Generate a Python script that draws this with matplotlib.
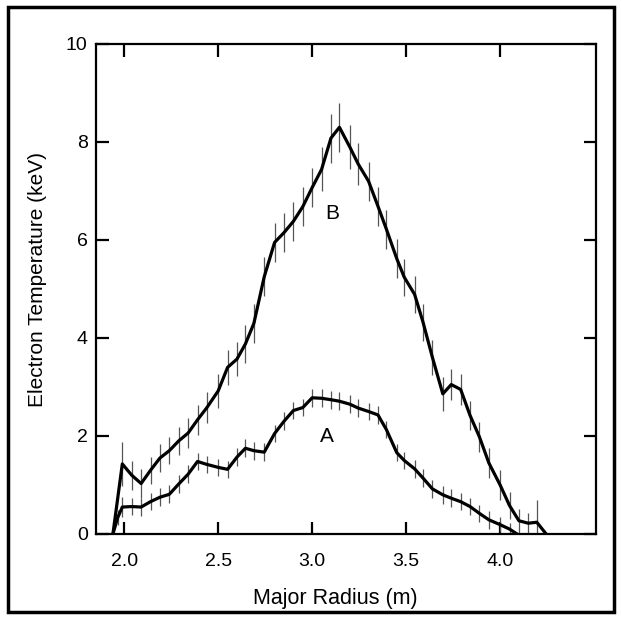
import matplotlib
matplotlib.use("Agg")
import matplotlib.pyplot as plt
from matplotlib.patches import Rectangle

plt.rcParams["font.family"] = ["Liberation Sans", "DejaVu Sans"]

# profile B (hot shot)
radius_b = [1.94, 1.99, 2.04, 2.09, 2.14, 2.19, 2.24, 2.29, 2.34, 2.39,
            2.44, 2.50, 2.55, 2.60, 2.645, 2.69, 2.745, 2.80, 2.85, 2.90,
            2.95, 3.00, 3.05, 3.10, 3.145, 3.20, 3.245, 3.30, 3.35, 3.395,
            3.45, 3.49, 3.545, 3.59, 3.64, 3.695, 3.74, 3.79, 3.84, 3.89,
            3.94, 4.00, 4.05, 4.10, 4.15, 4.195, 4.245]
te_b = [0, 1.43, 1.20, 1.03, 1.30, 1.55, 1.70, 1.90, 2.06, 2.33,
        2.58, 2.92, 3.40, 3.57, 3.88, 4.30, 5.25, 5.95, 6.15, 6.38,
        6.68, 7.07, 7.44, 8.08, 8.30, 7.90, 7.55, 7.20, 6.69, 6.22,
        5.62, 5.24, 4.89, 4.32, 3.60, 2.86, 3.05, 2.95, 2.42, 1.98,
        1.45, 1.00, 0.58, 0.27, 0.22, 0.24, 0]
err_b = [0, 0.45, 0.30, 0.30, 0.28, 0.28, 0.28, 0.28, 0.30, 0.30,
         0.32, 0.35, 0.35, 0.35, 0.38, 0.40, 0.40, 0.40, 0.40, 0.40,
         0.40, 0.40, 0.45, 0.50, 0.50, 0.45, 0.42, 0.40, 0.40, 0.40,
         0.40, 0.38, 0.38, 0.38, 0.35, 0.35, 0.32, 0.32, 0.30, 0.30,
         0.30, 0.30, 0.28, 0.25, 0.20, 0.45, 0]

# profile A
radius_a = [1.94, 1.965, 1.99, 2.04, 2.09, 2.14, 2.19, 2.24, 2.29, 2.34,
            2.39, 2.44, 2.50, 2.55, 2.60, 2.645, 2.69, 2.745, 2.80, 2.85,
            2.90, 2.95, 3.00, 3.05, 3.10, 3.145, 3.20, 3.245, 3.30, 3.35,
            3.395, 3.45, 3.49, 3.545, 3.59, 3.64, 3.695, 3.74, 3.79, 3.84,
            3.89, 3.94, 4.00, 4.05, 4.09]
te_a = [0, 0.33, 0.55, 0.56, 0.55, 0.66, 0.75, 0.81, 1.02, 1.22,
        1.48, 1.42, 1.36, 1.32, 1.57, 1.75, 1.70, 1.67, 2.05, 2.30,
        2.52, 2.58, 2.78, 2.77, 2.74, 2.71, 2.65, 2.57, 2.50, 2.43,
        2.13, 1.66, 1.50, 1.33, 1.14, 0.92, 0.80, 0.73, 0.66, 0.56,
        0.42, 0.29, 0.19, 0.10, 0]
err_a = [0, 0.15, 0.20, 0.18, 0.18, 0.18, 0.18, 0.18, 0.18, 0.18,
         0.18, 0.18, 0.18, 0.18, 0.18, 0.18, 0.18, 0.18, 0.18, 0.18,
         0.18, 0.18, 0.18, 0.18, 0.18, 0.18, 0.18, 0.18, 0.18, 0.18,
         0.18, 0.18, 0.18, 0.18, 0.18, 0.18, 0.18, 0.18, 0.18, 0.18,
         0.18, 0.18, 0.15, 0.12, 0]

x_ticks = [2.0, 2.5, 3.0, 3.5, 4.0]
y_ticks = [0, 2, 4, 6, 8, 10]

fig = plt.figure(figsize=(6.22, 6.19), dpi=100)
ax = fig.add_axes([96 / 622, 1 - 534 / 619, 500 / 622, 490 / 619])

for xs, ys, es in [(radius_b, te_b, err_b), (radius_a, te_a, err_a)]:
    ax.errorbar(xs, ys, yerr=es, fmt="none", ecolor="#555555", elinewidth=0.9,
                capsize=0, zorder=2)
    ax.plot(xs, ys, color="black", lw=2.3, solid_joinstyle="round", zorder=3)

ax.text(3.105, 6.55, "B", fontsize=15, ha="center", va="center")
ax.text(3.08, 2.0, "A", fontsize=15, ha="center", va="center")

ax.set_xlim(1.85, 4.51)
ax.set_ylim(0, 10)
ax.set_xticks(x_ticks)
ax.set_xticklabels([f"{v:.1f}" for v in x_ticks])
ax.set_yticks(y_ticks)
ax.tick_params(direction="in", length=9, width=1.6, top=True, right=True,
               labelsize=14)
ax.tick_params(axis="x", pad=14)
ax.tick_params(axis="y", pad=6)
for s in ax.spines.values():
    s.set_linewidth(1.6)

ax.set_xlabel("Major Radius (m)", fontsize=15.5)
ax.set_ylabel("Electron Temperature (keV)", fontsize=15)
ax.xaxis.set_label_coords(0.478, -0.11)
ax.yaxis.set_label_coords(-0.098, 0.52)

fig.patches.append(Rectangle((8 / 622, 7 / 619), 606 / 622, 605 / 619,
                             transform=fig.transFigure, fill=False,
                             ec="black", lw=2.5))

fig.savefig("out.png", dpi=100)
